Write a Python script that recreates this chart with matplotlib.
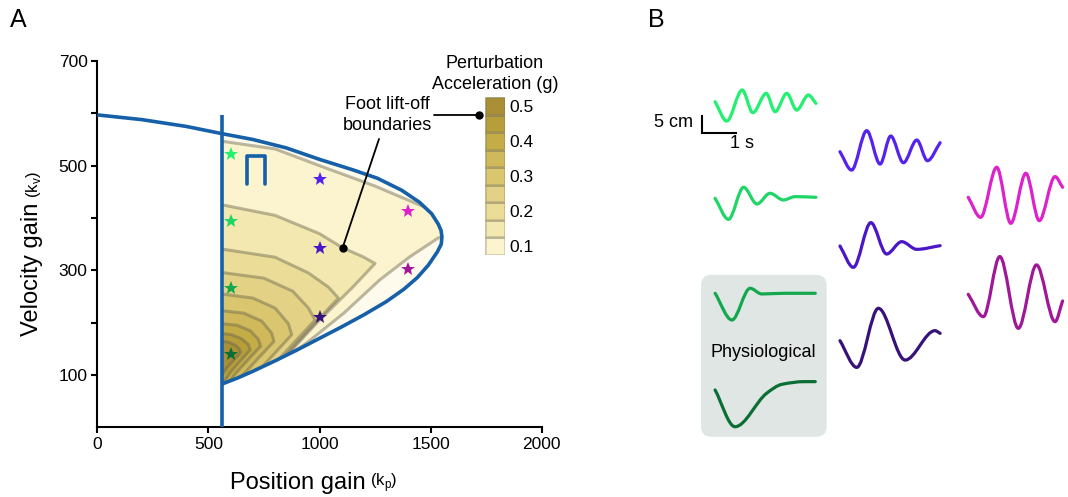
import numpy as np
import matplotlib
matplotlib.use("Agg")
import matplotlib.pyplot as plt
from matplotlib.path import Path
from matplotlib.patches import PathPatch, Polygon, FancyBboxPatch
from matplotlib.markers import MarkerStyle

plt.rcParams['font.family'] = ['Liberation Sans', 'DejaVu Sans']

# --- stability boundary (delay D-curve), upper branch then lower branch
boundary_kp = [0, 200, 400, 563, 700, 850, 1000, 1150, 1260, 1370, 1450, 1505, 1535, 1547, 1551,
               1548, 1530, 1490, 1440, 1380, 1300, 1200, 1100, 1000, 900, 800, 700, 630, 563]
boundary_kv = [597, 588, 575, 561, 550, 534, 512, 492, 476, 453, 430, 408, 388, 376, 364,
               350, 335, 310, 286, 264, 240, 215, 192, 170, 148, 127, 107, 94, 83]
kp_min = 563  # gravity stiffness (vertical boundary)

# --- foot lift-off contours (perturbation acceleration, g)
levels = [0.10, 0.15, 0.20, 0.25, 0.30, 0.35, 0.40, 0.45, 0.50]
contour_kp = [
    [540, 800, 1000, 1250, 1450, 1600, 1600, 1535, 1407, 1272, 1109, 942, 807, 680, 600],
    [540, 800, 1000, 1104, 1200, 1250, 1150, 1000, 880, 780],
    [540, 800, 950, 1040, 1085, 960, 820, 700],
    [540, 750, 880, 950, 980, 860, 740, 640],
    [540, 700, 800, 860, 875, 780, 680, 600],
    [540, 660, 740, 785, 795, 720, 640, 580],
    [540, 630, 690, 725, 735, 680, 620, 570],
    [540, 605, 650, 680, 688, 650, 600, 560],
    [540, 590, 620, 640, 645, 620, 590, 550],
]
contour_kv = [
    [548, 532, 500, 461, 425, 400, 370, 362, 326, 282, 218, 161, 122, 95, 70],
    [427, 405, 370, 343, 325, 313, 268, 205, 150, 105],
    [342, 325, 295, 268, 247, 190, 125, 70],
    [297, 285, 260, 228, 205, 150, 95, 50],
    [256, 247, 228, 198, 177, 133, 87, 50],
    [224, 218, 203, 180, 164, 130, 93, 60],
    [199, 195, 184, 168, 155, 130, 102, 70],
    [180, 177, 169, 158, 148, 130, 106, 80],
    [165, 163, 157, 150, 143, 131, 117, 95],
]
region_colors = ['#fefaec', '#fcf3cf', '#f2e8b0', '#ebdd98', '#e3d285',
                 '#d9c66f', '#cfb95a', '#c4ac47', '#b89e3b', '#a98f36']

# --- simulated gains (stars) and their sway responses
star_kp = [600, 600, 600, 600, 1000, 1000, 1000, 1400, 1400]
star_kv = [522, 395, 267, 140, 475, 343, 211, 414, 302]
star_colors = ['#22f070', '#1fd565', '#14a84e', '#0b6e35',
               '#5522ee', '#4a16c8', '#36127a', '#dd22cc', '#a01898']

# response extrema: time (s) and displacement (cm)
trace_t = [
    [0, 0.34, 0.79, 1.10, 1.49, 1.75, 2.09, 2.38, 2.72, 2.94],
    [0, 0.39, 0.83, 1.22, 1.60, 1.99, 2.33, 2.94],
    [0, 0.49, 1.02, 1.36, 2.00, 2.92],
    [0, 0.58, 1.50, 1.95, 2.60, 2.92],
    [0, 0.34, 0.78, 1.17, 1.48, 1.85, 2.24, 2.55, 2.92],
    [0, 0.39, 0.90, 1.36, 1.80, 2.24, 2.92],
    [0, 0.49, 1.12, 1.90, 2.77, 2.92],
    [0, 0.36, 0.83, 1.24, 1.68, 2.07, 2.53, 2.75],
    [0, 0.44, 0.92, 1.46, 1.99, 2.53, 2.75],
]
trace_cm = [
    [0, -5.8, 3.5, -3.3, 2.5, -3.0, 2.5, -2.5, 2.0, -0.5],
    [0, -6.3, 3.3, -1.7, 1.5, -0.5, 0.5, 0.3],
    [0, -8.0, 1.5, -0.2, 0.0, 0.0],
    [0, -11.0, -1.0, 1.7, 2.5, 2.5],
    [0, -5.5, 6.3, -3.7, 4.7, -3.3, 3.5, -2.7, 2.7],
    [0, -6.4, 7.0, -2.4, 1.3, -1.0, 0.1],
    [0, -8.0, 9.7, -5.8, 3.0, 2.2],
    [0, -6.0, 9.0, -7.8, 7.2, -7.0, 6.2, 3.0],
    [0, -6.7, 11.3, -10.2, 8.8, -8.2, -2.0],
]


def smooth_path(t, y, t0, y0):
    """Cubic Bezier path through the points; flat tangents at turning points,
    harmonic-mean tangents elsewhere so the curve stays monotone between them."""
    t = np.asarray(t, float)
    y = np.asarray(y, float)
    s = np.diff(y) / np.diff(t)
    m = np.empty_like(y)
    m[0], m[-1] = s[0], s[-1]
    for i in range(1, len(y) - 1):
        if s[i - 1] * s[i] <= 0:
            m[i] = 0.0
        else:
            m[i] = 2.0 / (1.0 / s[i - 1] + 1.0 / s[i])
    verts = [(t0 + t[0], y0 + y[0])]
    codes = [Path.MOVETO]
    for i in range(len(t) - 1):
        h = (t[i + 1] - t[i]) / 3
        verts += [(t0 + t[i] + h, y0 + y[i] + m[i] * h),
                  (t0 + t[i + 1] - h, y0 + y[i + 1] - m[i + 1] * h),
                  (t0 + t[i + 1], y0 + y[i + 1])]
        codes += [Path.CURVE4] * 3
    return Path(verts, codes)


W, H = 1068, 497
fig = plt.figure(figsize=(W / 100, H / 100), dpi=100)
blue = '#1560a8'
line_gray = (0.42, 0.40, 0.30, 0.45)

# ---------------- panel A
ax = fig.add_axes([97.3 / W, 1 - 427.3 / H, 444.4 / W, 366.3 / H])
ax.set_xlim(0, 2000)
ax.set_ylim(0, 700)

bkp = np.array(boundary_kp)
bkv = np.array(boundary_kv)
inside = bkp >= kp_min
region = Polygon(np.column_stack([bkp[inside], bkv[inside]]), closed=True,
                 facecolor=region_colors[0], edgecolor='none', zorder=1)
ax.add_patch(region)

for k in range(len(levels)):
    xs = [kp_min - 40] + contour_kp[k] + [kp_min - 40]
    ys = [contour_kv[k][0]] + contour_kv[k] + [contour_kv[k][-1] - 60]
    poly = Polygon(np.column_stack([xs, ys]), closed=True,
                   facecolor=region_colors[k + 1], edgecolor='none', zorder=2)
    ax.add_patch(poly)
    poly.set_clip_path(region)
for k in range(len(levels)):
    ln, = ax.plot(contour_kp[k], contour_kv[k], color=line_gray, lw=2.2,
                  solid_joinstyle='round', zorder=3)
    ln.set_clip_path(region)

ax.plot(boundary_kp, boundary_kv, color=blue, lw=2.6, solid_capstyle='butt',
        solid_joinstyle='round', zorder=5)
ax.plot([kp_min, kp_min], [0, boundary_kv[0]], color=blue, lw=2.6,
        solid_capstyle='butt', zorder=5, clip_on=False)

for x, y, c in zip(star_kp, star_kv, star_colors):
    ax.plot(x, y, marker='*', ms=10.5, color=c, mew=0, zorder=6)

pi_shape = Path([(-0.32, -0.5), (-0.32, 0.5), (0.32, 0.5), (0.32, -0.5)],
                [Path.MOVETO, Path.LINETO, Path.LINETO, Path.LINETO])
ax.plot(714, 491, marker=MarkerStyle(pi_shape, fillstyle='none', capstyle='round',
                                     joinstyle='miter'),
        ms=20, mew=2.6, mec=blue, mfc='none', zorder=6)

ax.annotate('Foot lift-off\nboundaries', xy=(1104, 343), xytext=(1304, 597),
            ha='center', va='center', fontsize=13, linespacing=1.25,
            arrowprops=dict(arrowstyle='-', color='black', lw=1.3, shrinkA=2, shrinkB=0),
            zorder=7)
ax.plot(1104, 343, 'o', color='black', ms=5, zorder=7)

for side in ['top', 'right']:
    ax.spines[side].set_visible(False)
for side in ['left', 'bottom']:
    ax.spines[side].set_linewidth(1.5)
ax.set_xticks([0, 500, 1000, 1500, 2000])
ax.set_yticks([100, 200, 300, 400, 500, 600, 700])
ax.set_yticklabels(['100', '', '300', '', '500', '', '700'])
ax.tick_params(length=4, width=1.5, labelsize=12.5, pad=3)

t_x = fig.text(230 / W, 1 - 489 / H, 'Position gain', fontsize=17, ha='left', va='baseline')
ax.annotate('(k$_\\mathregular{p}$)', xy=(1, 0), xycoords=t_x, xytext=(3, 0),
            textcoords='offset points', fontsize=12, ha='left', va='bottom')
t_y = fig.text(32 / W, 1 - 336 / H, 'Velocity gain', fontsize=17, rotation=90,
               ha='center', va='bottom')
ax.annotate('(k$_\\mathregular{v}$)', xy=(0.5, 1), xycoords=t_y, xytext=(1, 3),
            textcoords='offset points', fontsize=12, rotation=90, ha='center', va='bottom')

fig.text(10 / W, 1 - 20 / H, 'A', fontsize=18, ha='left', va='center')
fig.text(648 / W, 1 - 20 / H, 'B', fontsize=18, ha='left', va='center')

# colour key
cax = fig.add_axes([485 / W, 1 - 255 / H, 20 / W, 157.7 / H])
cax.bar([0] * len(levels), [1] * len(levels), bottom=np.arange(len(levels)), width=1,
        color=region_colors[1:], edgecolor=(0.45, 0.43, 0.33, 0.35), linewidth=1.8)
cax.set_xlim(-0.5, 0.5)
cax.set_ylim(0, len(levels))
cax.set_xticks([])
cax.set_yticks([0.5, 2.5, 4.5, 6.5, 8.5])
cax.set_yticklabels(['%.1f' % v for v in levels[::2]])
cax.yaxis.tick_right()
cax.tick_params(length=0, labelsize=12.5, pad=3)
for s in cax.spines.values():
    s.set_visible(False)
cax.set_title('Perturbation\nAcceleration (g)', fontsize=13, linespacing=1.3, pad=6)
cax.annotate('', xy=(-0.3, 1 - 17.7 / 157.7), xycoords='axes fraction',
             xytext=(434 / W, 1 - 115 / H), textcoords='figure fraction',
             arrowprops=dict(arrowstyle='-', color='black', lw=1.3, shrinkA=0, shrinkB=0))
cax.plot(-0.8, 8 - 0.01, 'o', color='black', ms=5, clip_on=False)

# ---------------- panel B
px_per_s, px_per_cm = 34.3, 3.34
bx = fig.add_axes([640 / W, 0, (W - 640) / W, 1])
bx.set_xlim(0, (W - 640) / px_per_s)
bx.set_ylim(0, H / px_per_cm)
bx.axis('off')

box = FancyBboxPatch((1.78, 18.05), 3.66, 48.45,
                     boxstyle='round,pad=0,rounding_size=0.3',
                     mutation_aspect=px_per_s / px_per_cm,
                     facecolor='#dfe6e3', edgecolor='none', zorder=0)
bx.add_patch(box)
bx.text(3.60, 43.4, 'Physiological', fontsize=13, ha='center', va='center')

col_t0 = [2.19, 5.83, 9.57]
trace_col = [0, 0, 0, 0, 1, 1, 1, 2, 2]
trace_y0 = [118.35, 89.43, 60.99, 32.04, 103.38, 75.15, 46.80, 89.73, 60.69]
for i in range(len(trace_t)):
    p = smooth_path(trace_t[i], trace_cm[i], col_t0[trace_col[i]], trace_y0[i])
    bx.add_patch(PathPatch(p, fill=False, edgecolor=star_colors[i], lw=2.3,
                           capstyle='round', joinstyle='round'))

# scale bar: 5 cm by 1 s
sb_t, sb_y = 1.80, 109.1
bx.plot([sb_t, sb_t, sb_t + 1], [sb_y + 5, sb_y, sb_y], color='black', lw=1.5,
        solid_joinstyle='miter')
bx.text(sb_t - 0.25, sb_y + 3.0, '5 cm', fontsize=13, ha='right', va='center')
bx.text(sb_t + 1.16, sb_y - 3.4, '1 s', fontsize=13, ha='center', va='center')

fig.savefig('out.png', dpi=100)
